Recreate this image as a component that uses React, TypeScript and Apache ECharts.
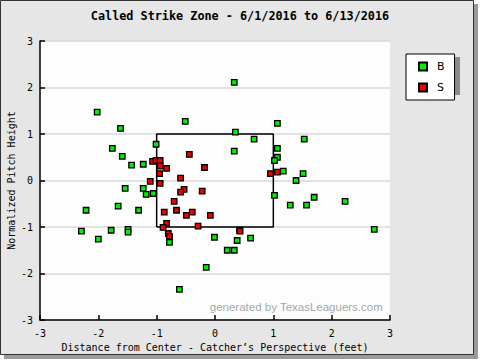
import React, { useEffect, useRef } from "react";
import * as echarts from "echarts";

const titleText = "Called Strike Zone - 6/1/2016 to 6/13/2016";
const xAxisName = "Distance from Center - Catcher\u2019s Perspective (feet)";
const yAxisName = "Normalized Pitch Height";
const legendNames = ["B", "S"];

const balls: [number, number][] = [
  [-2.02, 1.47], [-1.62, 1.12], [-0.51, 1.27], [-1.76, 0.69], [-1.59, 0.52],
  [-1.01, 0.78], [-1.43, 0.33], [-1.23, 0.35], [0.33, 2.11], [1.07, 1.23],
  [0.35, 1.04], [0.67, 0.89], [1.53, 0.89], [0.33, 0.63], [1.07, 0.69],
  [1.07, 0.5], [1.02, 0.43], [1.17, 0.2], [1.51, 0.15], [1.39, 0.0],
  [-1.54, -0.17], [-1.23, -0.17], [-1.18, -0.3], [-1.06, -0.28], [-1.66, -0.55],
  [-2.21, -0.64], [-1.31, -0.64], [-2.29, -1.09], [-2.0, -1.26], [-1.78, -1.07],
  [-1.49, -1.05], [-1.49, -1.11], [-0.78, -1.33], [-0.01, -1.22], [-0.15, -1.87],
  [-0.61, -2.34], [1.02, -0.32], [1.29, -0.53], [1.57, -0.53], [1.7, -0.36],
  [2.23, -0.45], [0.38, -1.29], [0.61, -1.24], [0.21, -1.5], [0.33, -1.5],
  [2.73, -1.05],
];

const strikes: [number, number][] = [
  [-0.44, 0.56], [-1.07, 0.41], [-1.01, 0.43], [-0.94, 0.43], [-0.94, 0.31],
  [-0.83, 0.26], [-0.95, 0.15], [-0.18, 0.28], [-0.59, 0.05], [-1.11, -0.02],
  [-0.94, -0.06], [0.95, 0.15], [1.07, 0.18], [-0.53, -0.19], [-0.59, -0.25],
  [-0.22, -0.23], [-0.7, -0.45], [-0.87, -0.68], [-0.66, -0.64], [-0.49, -0.75],
  [-0.39, -0.68], [-0.08, -0.75], [-0.83, -0.92], [-0.89, -1.01], [-0.29, -0.98],
  [-0.8, -1.14], [-0.78, -1.2], [0.42, -1.07], [0.43, -1.09],
];

const zoneLeft = -1;
const zoneRight = 1;
const zoneBottom = -1;
const zoneTop = 1;

const axisMin = -3;
const axisMax = 3;

export default function App() {
  const ref = useRef<HTMLDivElement>(null);
  useEffect(() => {
    if (!ref.current) return;
    const chart = echarts.init(ref.current, undefined, { renderer: "svg" });
    const mono = "DejaVu Sans Mono";
    const zone = [
      [zoneLeft, zoneBottom],
      [zoneRight, zoneBottom],
      [zoneRight, zoneTop],
      [zoneLeft, zoneTop],
      [zoneLeft, zoneBottom],
    ];
    chart.setOption({
      animation: false,
      title: {
        text: titleText,
        left: "center",
        top: 5,
        textStyle: { fontFamily: mono, fontSize: 11.8, fontWeight: "bold", color: "#000" },
      },
      graphic: [
        { type: "rect", z: -20, shape: { x: 4, y: 4, width: 474, height: 355 }, style: { fill: "#9a9a9a" } },
        { type: "rect", z: -19, shape: { x: 0.5, y: 0.5, width: 473, height: 354 }, style: { fill: "#e6e6e6", stroke: "#333", lineWidth: 1 } },
        { type: "rect", z: 3, shape: { x: 410, y: 57, width: 50, height: 38 }, style: { fill: "#8a8a8a" } },
        {
          type: "text",
          z: 2,
          right: 97,
          top: 301,
          style: { text: "generated by TexasLeaguers.com", fill: "#a8a8a8", font: "11.5px 'Liberation Sans'" },
        },
      ],
      legend: {
        data: legendNames,
        orient: "vertical",
        left: 406,
        top: 54,
        padding: [7, 10, 7, 12],
        itemGap: 10,
        itemWidth: 8,
        itemHeight: 8,
        icon: "rect",
        backgroundColor: "#fff",
        borderColor: "#000",
        borderWidth: 1,
        z: 5,
        textStyle: { fontFamily: "DejaVu Sans", fontSize: 11, color: "#000", padding: [0, 0, 0, 5], lineHeight: 8 },
      },
      grid: {
        left: 40,
        top: 41,
        right: 90,
        bottom: 40,
        show: true,
        backgroundColor: "#fcfdfc",
        borderWidth: 0,
        outerBoundsMode: "none",
        containLabel: false,
      },
      xAxis: {
        type: "value",
        min: axisMin,
        max: axisMax,
        interval: 1,
        name: xAxisName,
        nameLocation: "middle",
        nameGap: 22,
        nameMoveOverlap: false,
        nameTextStyle: { fontFamily: mono, fontSize: 10, color: "#000" },
        axisLine: { show: true, onZero: false, lineStyle: { color: "#000", width: 1.5 } },
        axisTick: { show: true, inside: true, length: 5, lineStyle: { color: "#000", width: 1.5 } },
        axisLabel: { fontFamily: mono, fontSize: 10, color: "#000", margin: 8 },
        splitLine: { show: false },
      },
      yAxis: {
        type: "value",
        min: axisMin,
        max: axisMax,
        interval: 1,
        name: yAxisName,
        nameLocation: "middle",
        nameGap: 24,
        nameRotate: 90,
        nameMoveOverlap: false,
        nameTextStyle: { fontFamily: mono, fontSize: 10, color: "#000" },
        axisLine: { show: true, onZero: false, lineStyle: { color: "#000", width: 1.5 } },
        axisTick: { show: true, inside: true, length: 5, lineStyle: { color: "#000", width: 1.5 } },
        axisLabel: { fontFamily: mono, fontSize: 10, color: "#000", margin: 7 },
        splitLine: { show: true, lineStyle: { color: "#d8d8d8", width: 1.5 } },
      },
      series: [
        {
          name: "zone",
          type: "line",
          data: zone,
          symbol: "none",
          lineStyle: { color: "#000", width: 1.5 },
          silent: true,
          z: 2,
        },
        {
          name: "B",
          type: "scatter",
          data: balls,
          symbol: "rect",
          symbolSize: 5.5,
          itemStyle: { color: "#00ee00", borderColor: "#000", borderWidth: 1.3, opacity: 1 },
          z: 3,
        },
        {
          name: "S",
          type: "scatter",
          data: strikes,
          symbol: "rect",
          symbolSize: 5.5,
          itemStyle: { color: "#ee0000", borderColor: "#000", borderWidth: 1.3, opacity: 1 },
          z: 4,
        },
      ],
    });
    return () => chart.dispose();
  }, []);
  return (
    <div
      ref={ref}
      style={{ position: "fixed", left: 0, top: 0, width: 480, height: 360, background: "#fff" }}
    />
  );
}
